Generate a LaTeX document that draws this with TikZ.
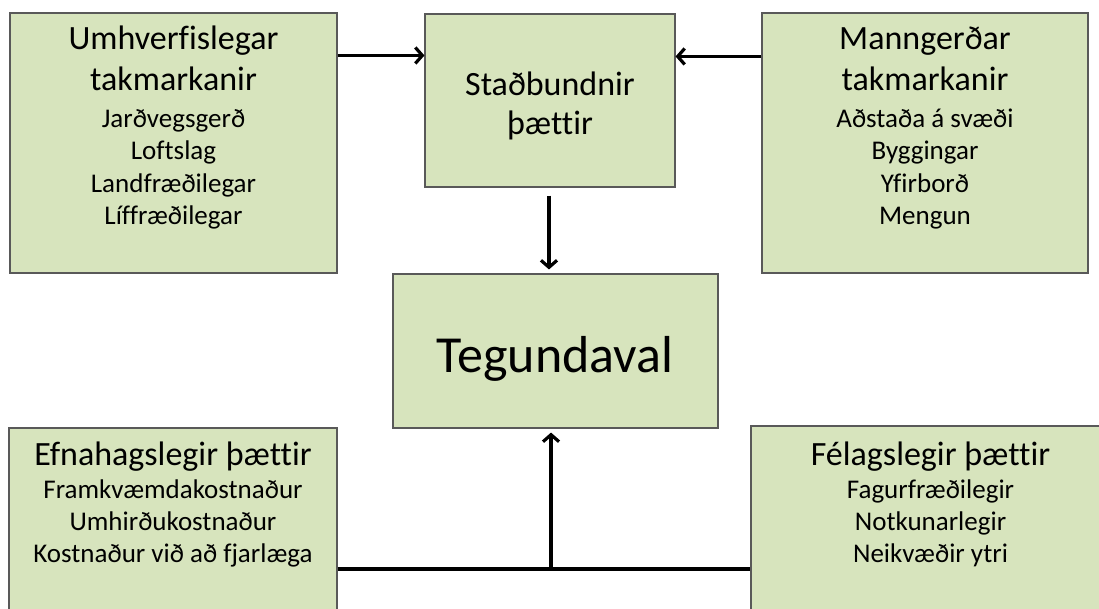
\documentclass[tikz,border=0pt]{standalone}
\usepackage{fontspec}
\setmainfont{Carlito}[Ligatures={NoCommon,NoRequired,NoContextual}]
\usetikzlibrary{arrows.meta,calc}
\definecolor{boxfill}{HTML}{D7E4BD}
\definecolor{boxline}{HTML}{595959}
\begin{document}
\begin{tikzpicture}[x=1pt,y=-1pt,
  box/.style={rectangle,draw=boxline,line width=1.1pt,fill=boxfill,inner sep=0pt},
  head/.style={font=\fontsize{34}{41}\selectfont,align=center,inner sep=0pt,anchor=north},
  headone/.style={font=\fontsize{34}{41}\selectfont,inner sep=0pt,anchor=base},
  items/.style={font=\fontsize{27}{32.5}\selectfont,align=center,inner sep=0pt,anchor=north},
  big/.style={font=\fontsize{52}{62}\selectfont,inner sep=0pt,anchor=base},
  conn/.style={line width=3.2pt,black},
  arr/.style={conn,-{Straight Barb[length=7pt,width=16pt]}}]
\fill[white] (0,0) rectangle (1099,608);
\useasboundingbox (0,0) rectangle (1099,608);

% boxes
\node[box,minimum width=327pt,minimum height=260pt] (env) at (173.5,143) {};
\node[box,minimum width=250pt,minimum height=173pt] (loc) at (550,100.5) {};
\node[box,minimum width=326pt,minimum height=260pt] (man) at (925,143) {};
\node[box,minimum width=325pt,minimum height=154pt] (teg) at (555.5,351) {};
\node[box,minimum width=328pt,minimum height=192pt] (eco) at (173,524) {};
\node[box,minimum width=359pt,minimum height=194pt] (soc) at (930.5,523) {};

% texts
\node[head] (envh) at (173.5,20.3) {\strut Umhverfislegar\\takmarkanir};
\node[items] (envi) at (173.5,104.25) {\strut Jarðvegsgerð\\Loftslag\\Landfræðilegar\\Líffræðilegar};
\node[head,font=\fontsize{34}{39}\selectfont] (loct) at (550,67.7) {\strut Staðbundnir\\þættir};
\node[head] (manh) at (925,20.3) {\strut Manngerðar\\takmarkanir};
\node[items] (mani) at (925,104.25) {\strut Aðstaða á svæði\\Byggingar\\Yfirborð\\Mengun};
\node[big] (tegt) at (555,372) {Tegundaval};
\node[headone] (ecoh) at (173,465) {Efnahagslegir þættir};
\node[items,font=\fontsize{27}{32}\selectfont] (ecoi) at (173,475.6) {\strut Framkvæmdakostnaður\\Umhirðukostnaður\\Kostnaður við að fjarlæga};
\node[headone] (soch) at (930.5,465) {Félagslegir þættir};
\node[items,font=\fontsize{27}{32}\selectfont] (soci) at (930.5,475.6) {\strut Fagurfræðilegir\\Notkunarlegir\\Neikvæðir ytri};

% connectors
\draw[arr] ([yshift=-43pt]env.north east) -- ([yshift=-42pt]loc.north west);
\draw[arr] ([yshift=-44pt]man.north west) -- ([yshift=-43pt]loc.north east);
\draw[arr] ($(loc.south)+(-1,8)$) -- ($(loc.south |- teg.north)+(-1,-4)$);
\coordinate (j) at (551,569);
\draw[conn] (eco.east |- j) -- (soc.west |- j);
\draw[arr] (j) -- ($(j |- teg.south)+(0,4)$);
\end{tikzpicture}
\end{document}
